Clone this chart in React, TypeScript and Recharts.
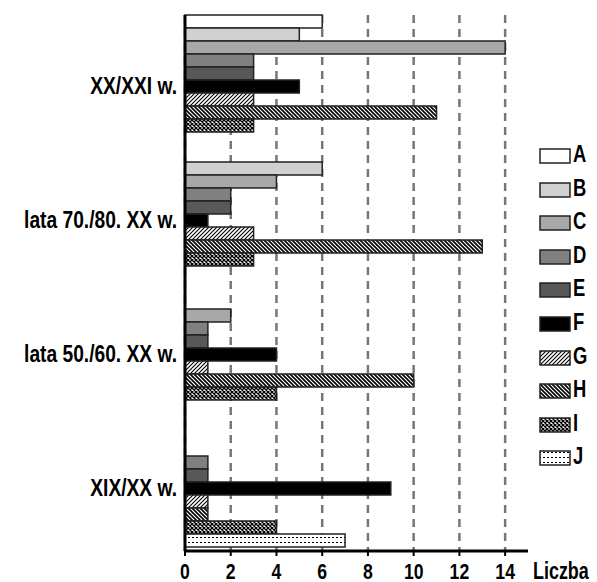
import { BarChart, Bar, XAxis, YAxis, CartesianGrid } from 'recharts';

const categories = ['XX/XXI w.', 'lata 70./80. XX w.', 'lata 50./60. XX w.', 'XIX/XX w.'];
const seriesA = [6, 0, 0, 0];
const seriesB = [5, 6, 0, 0];
const seriesC = [14, 4, 2, 0];
const seriesD = [3, 2, 1, 1];
const seriesE = [3, 2, 1, 1];
const seriesF = [5, 1, 4, 9];
const seriesG = [3, 3, 1, 1];
const seriesH = [11, 13, 10, 1];
const seriesI = [3, 3, 4, 4];
const seriesJ = [0, 0, 0, 7];
const xTicks = [0, 2, 4, 6, 8, 10, 12, 14];

// no narrow font installed, so bold sans gets squeezed horizontally
const FONT = "'Liberation Sans', Arial, sans-serif";
const SQUEEZE = 0.8;

const series = [
  { key: 'A', values: seriesA, fill: '#ffffff' },
  { key: 'B', values: seriesB, fill: '#d0d0d0' },
  { key: 'C', values: seriesC, fill: '#a8a8a8' },
  { key: 'D', values: seriesD, fill: '#808080' },
  { key: 'E', values: seriesE, fill: '#585858' },
  { key: 'F', values: seriesF, fill: '#000000' },
  { key: 'G', values: seriesG, fill: 'url(#patG)' },
  { key: 'H', values: seriesH, fill: 'url(#patH)' },
  { key: 'I', values: seriesI, fill: 'url(#patI)' },
  { key: 'J', values: seriesJ, fill: 'url(#patJ)' },
];

const data = categories.map((cat, i) => {
  const row: Record<string, string | number> = { cat };
  series.forEach((s) => {
    row[s.key] = s.values[i];
  });
  return row;
});

const CategoryTick = ({ x, y, payload }: any) => (
  <text
    transform={`translate(${x},${y + 12}) scale(${SQUEEZE},1)`}
    textAnchor="end"
    fontFamily={FONT}
    fontWeight="bold"
    fontSize={24}
    fill="#000"
  >
    {payload.value}
  </text>
);

const ValueTick = ({ x, y, payload }: any) => (
  <text
    transform={`translate(${x},${y + 21}) scale(${SQUEEZE},1)`}
    textAnchor="middle"
    fontFamily={FONT}
    fontWeight="bold"
    fontSize={22}
    fill="#000"
  >
    {payload.value}
  </text>
);

function Patterns() {
  return (
    <defs>
      <pattern id="patG" width="4" height="4" patternUnits="userSpaceOnUse">
        <rect width="4" height="4" fill="#fff" />
        <path d="M-1,1 l2,-2 M0,4 l4,-4 M3,5 l2,-2" stroke="#000" strokeWidth="1.1" />
      </pattern>
      <pattern id="patH" width="4" height="4" patternUnits="userSpaceOnUse">
        <rect width="4" height="4" fill="#fff" />
        <path d="M-1,3 l2,2 M0,0 l4,4 M3,-1 l2,2" stroke="#000" strokeWidth="1.6" />
      </pattern>
      <pattern id="patI" width="4" height="4" patternUnits="userSpaceOnUse">
        <rect width="4" height="4" fill="#fff" />
        <path d="M0,0 l4,4 M0,4 l4,-4" stroke="#000" strokeWidth="1.3" />
      </pattern>
      <pattern id="patJ" width="4" height="5" patternUnits="userSpaceOnUse">
        <rect width="4" height="5" fill="#fff" />
        <rect x="0" y="2" width="2" height="1" fill="#000" />
      </pattern>
    </defs>
  );
}

export default function App() {
  return (
    <div style={{ position: 'absolute', left: 0, top: 0, width: 597, height: 582, background: '#fff' }}>
      <BarChart
        width={597}
        height={582}
        data={data}
        layout="vertical"
        barCategoryGap={0}
        barGap={0}
        margin={{ top: 15, right: 69, bottom: 0, left: 0 }}
      >
        <Patterns />
        <CartesianGrid
          horizontal={false}
          syncWithTicks
          stroke="#777"
          strokeWidth={2.5}
          strokeDasharray="8 6"
        />
        <XAxis
          type="number"
          domain={[0, 15]}
          ticks={xTicks}
          height={31}
          axisLine={{ stroke: '#000', strokeWidth: 3 }}
          tickLine={{ stroke: '#000', strokeWidth: 2 }}
          tickSize={5}
          tickMargin={2}
          tick={<ValueTick />}
          label={{
            content: ({ viewBox }: any) => (
              <text
                transform={`translate(${viewBox.x + viewBox.width + 5},${viewBox.y + 28}) scale(0.78,1)`}
                fontFamily={FONT}
                fontWeight="bold"
                fontSize={23}
                fill="#000"
              >
                Liczba
              </text>
            ),
          }}
        />
        <YAxis
          type="category"
          dataKey="cat"
          width={185}
          axisLine={{ stroke: '#000', strokeWidth: 3 }}
          tickLine={false}
          tickSize={0}
          tickMargin={8}
          tick={<CategoryTick />}
        />
        {series.map((s) => (
          <Bar
            key={s.key}
            dataKey={s.key}
            fill={s.fill}
            stroke="#222"
            strokeWidth={1.5}
            isAnimationActive={false}
          />
        ))}
      </BarChart>
      <div style={{ position: 'absolute', left: 539, top: 148 }}>
        {series.map((s, i) => (
          <div key={s.key} style={{ position: 'absolute', left: 0, top: i * 33.6, width: 58, height: 18 }}>
            <svg width={33} height={17} style={{ position: 'absolute', left: 0, top: 0 }}>
              <rect x={1} y={1} width={30} height={14} fill={s.fill} stroke="#222" strokeWidth={1.5} />
            </svg>
            <span
              style={{
                position: 'absolute',
                left: 34,
                top: -5,
                fontFamily: FONT,
                fontWeight: 'bold',
                fontSize: 23,
                lineHeight: '23px',
                color: '#000',
                transform: `scaleX(${SQUEEZE})`,
                transformOrigin: 'left',
              }}
            >
              {s.key}
            </span>
          </div>
        ))}
      </div>
    </div>
  );
}
